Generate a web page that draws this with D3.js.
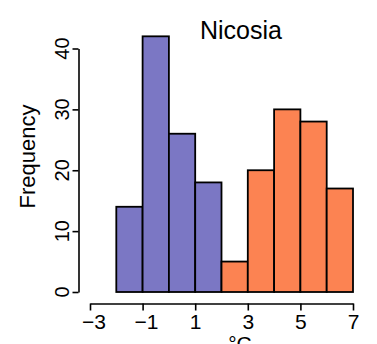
<!DOCTYPE html>
<html>
<head>
<meta charset="utf-8">
<script src="https://cdn.jsdelivr.net/npm/d3@7"></script>
<style>
  html, body { margin: 0; padding: 0; background: #fff; }
  svg { display: block; }
  text { font-family: "Liberation Sans", Arial, Helvetica, sans-serif; fill: #000; }
</style>
</head>
<body>
<svg id="chart" width="377" height="344"></svg>
<script>
// Histogram of daily temperature (°C) for Nicosia, bins of width 1
const binStarts = [-2, -1, 0, 1, 2, 3, 4, 5, 6];
const counts    = [14, 42, 26, 18, 5, 20, 30, 28, 17];
const groups    = ["cold", "cold", "cold", "cold", "warm", "warm", "warm", "warm", "warm"];
const binWidth  = 1;

const xTicks = [-3, -1, 1, 3, 5, 7];
const yTicks = [0, 10, 20, 30, 40];

const title  = "Nicosia";
const xLabel = "°C";
const yLabel = "Frequency";

const colors = { cold: "#7b77c4", warm: "#fc8352" };

const svg = d3.select("#chart");

const x = d3.scaleLinear().domain([-3, 7]).range([90, 353]);
const y = d3.scaleLinear().domain([0, 40]).range([292, 48.5]);

// bars
const bins = binStarts.map((b, i) => ({ x0: b, x1: b + binWidth, n: counts[i], g: groups[i] }));
svg.append("g")
  .selectAll("rect")
  .data(bins)
  .join("rect")
  .attr("x", d => x(d.x0))
  .attr("y", d => y(d.n))
  .attr("width", d => x(d.x1) - x(d.x0))
  .attr("height", d => y(0) - y(d.n))
  .attr("fill", d => colors[d.g])
  .attr("stroke", "#000")
  .attr("stroke-width", 1.8);

// y axis (offset to the left of the bars)
const yAxis = svg.append("g")
  .attr("transform", "translate(78.5,0)")
  .call(d3.axisLeft(y).tickValues(yTicks).tickSize(6).tickSizeOuter(0).tickFormat(""));
yAxis.selectAll("path, line").attr("stroke", "#000").attr("stroke-width", 1.6);

svg.append("g")
  .selectAll("text")
  .data(yTicks)
  .join("text")
  .attr("transform", d => `translate(68.5,${y(d)}) rotate(-90)`)
  .attr("text-anchor", "middle")
  .style("font-size", "20px")
  .text(d => d);

// x axis (offset below the bars)
const xAxis = svg.append("g")
  .attr("transform", "translate(0,303.5)")
  .call(d3.axisBottom(x).tickValues(xTicks).tickSize(7).tickSizeOuter(0).tickFormat(""));
xAxis.selectAll("path, line").attr("stroke", "#000").attr("stroke-width", 1.6);

svg.append("g")
  .selectAll("text")
  .data(xTicks)
  .join("text")
  .attr("x", d => x(d) + (d < 0 ? 4 : 0.5))
  .attr("y", 328.5)
  .attr("text-anchor", "middle")
  .style("font-size", "21px")
  .text(d => (d < 0 ? "\u2212" + Math.abs(d) : String(d)));

// titles
svg.append("text")
  .attr("x", 241)
  .attr("y", 38.5)
  .attr("text-anchor", "middle")
  .style("font-size", "25px")
  .text(title);

svg.append("text")
  .attr("x", 240)
  .attr("y", 351)
  .attr("text-anchor", "middle")
  .style("font-size", "21px")
  .text(xLabel);

svg.append("text")
  .attr("transform", "translate(35,156.5) rotate(-90)")
  .attr("text-anchor", "middle")
  .style("font-size", "22px")
  .text(yLabel);
</script>
</body>
</html>
